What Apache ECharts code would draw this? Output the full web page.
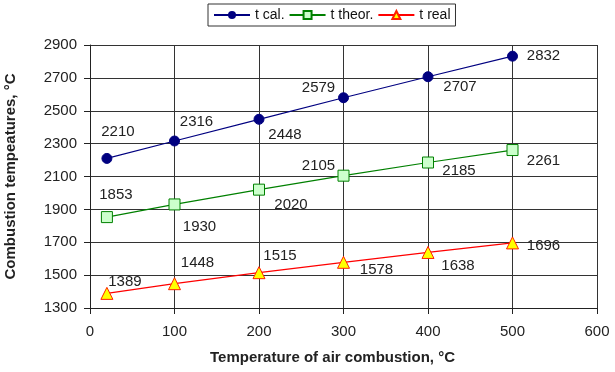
<!DOCTYPE html>
<html>
<head>
<meta charset="utf-8">
<style>
  html, body { margin: 0; padding: 0; background: #fff; }
  #chart { width: 615px; height: 372px; }
</style>
<script src="https://cdn.jsdelivr.net/npm/echarts@6/dist/echarts.min.js"></script>
</head>
<body>
<div id="chart"></div>
<script>
// data
const airTemps = [20, 100, 200, 300, 400, 500];
const tCal = [2210, 2316, 2448, 2579, 2707, 2832];
const tTheor = [1853, 1930, 2020, 2105, 2185, 2261];
const tReal = [1389, 1448, 1515, 1578, 1638, 1696];
const seriesNames = ["t cal.", "t theor.", "t real"];

// label placement around each point (px), like the original excel chart
const calOffsets = [[11, -27], [22, -19], [26, 16], [-25, -10], [32, 10], [31, 0]];
const theorOffsets = [[9, -22], [25, 22], [32, 15], [-25, -10], [31, 8], [31, 11]];
const realOffsets = [[18, -12], [23, -21], [21, -17], [33, 8], [30, 13], [31, 3]];

const font = "Liberation Sans, Arial, sans-serif";

function points(values, offsets) {
  return values.map((v, i) => ({
    value: [airTemps[i], v],
    label: { offset: offsets[i] },
  }));
}

const labelBase = {
  show: true,
  position: "inside",
  align: "center",
  verticalAlign: "middle",
  color: "#222",
  fontSize: 15,
  fontFamily: font,
  formatter: (p) => p.value[1],
};

const chart = echarts.init(document.getElementById("chart"));
chart.setOption({
  animation: false,
  textStyle: { fontFamily: font },
  legend: {
    top: 4,
    left: 208,
    itemWidth: 36,
    itemHeight: 10,
    itemGap: 4,
    padding: [4, 5],
    borderColor: "#333",
    borderWidth: 1,
    textStyle: { color: "#111", fontSize: 14, fontFamily: font },
    data: seriesNames,
  },
  grid: { left: 90, right: 18, top: 45, bottom: 64, outerBoundsMode: "none", containLabel: false },
  xAxis: {
    type: "value",
    min: 0,
    max: 600,
    interval: 100,
    name: "Temperature of air combustion, °C",
    nameLocation: "middle",
    nameGap: 42,
    nameTextStyle: { fontWeight: "bold", fontSize: 15, color: "#222", fontFamily: font, padding: [0, 22, 0, 0] },
    axisLine: { show: true, onZero: false, lineStyle: { color: "#222" } },
    axisTick: { show: true, length: 6, lineStyle: { color: "#222" } },
    axisLabel: { color: "#222", fontSize: 15, margin: 16 },
    splitLine: { show: true, lineStyle: { color: "#333", width: 1 } },
  },
  yAxis: {
    type: "value",
    min: 1300,
    max: 2900,
    interval: 200,
    name: "Combustion tempeatures, °C",
    nameLocation: "middle",
    nameGap: 72,
    nameTextStyle: { fontWeight: "bold", fontSize: 15, color: "#222", fontFamily: font },
    axisLine: { show: true, lineStyle: { color: "#222" } },
    axisTick: { show: true, length: 6, lineStyle: { color: "#222" } },
    axisLabel: { color: "#222", fontSize: 15, margin: 13, formatter: (v) => String(v) },
    splitLine: { show: true, lineStyle: { color: "#333", width: 1 } },
  },
  series: [
    {
      name: seriesNames[0],
      type: "line",
      symbol: "circle",
      symbolSize: 10,
      lineStyle: { color: "#000080", width: 1.2 },
      itemStyle: { color: "#000080", borderColor: "#000080" },
      label: labelBase,
      data: points(tCal, calOffsets),
    },
    {
      name: seriesNames[1],
      type: "line",
      symbol: "rect",
      symbolSize: 11,
      lineStyle: { color: "#008000", width: 1.2 },
      itemStyle: { color: "#ccffcc", borderColor: "#008000", borderWidth: 1 },
      label: labelBase,
      data: points(tTheor, theorOffsets),
    },
    {
      name: seriesNames[2],
      type: "line",
      symbol: "triangle",
      symbolSize: 12,
      lineStyle: { color: "#ff0000", width: 1.2 },
      itemStyle: { color: "#ffff00", borderColor: "#ff2000", borderWidth: 1 },
      label: labelBase,
      data: points(tReal, realOffsets),
    },
  ],
});
</script>
</body>
</html>
